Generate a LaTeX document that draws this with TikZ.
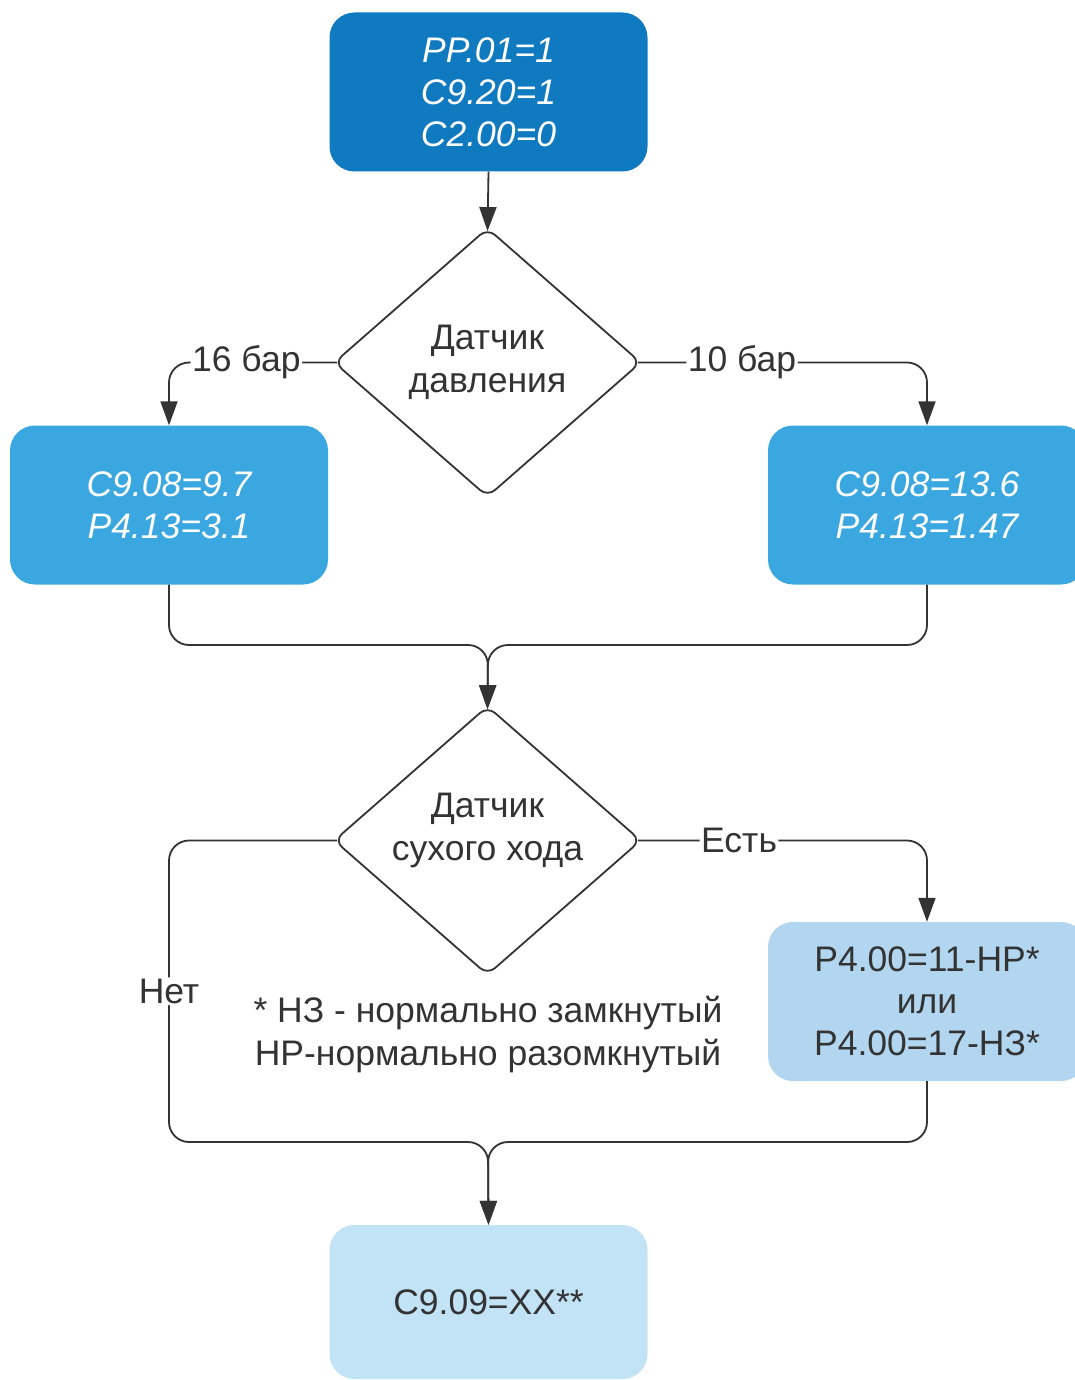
\documentclass[tikz,border=0pt]{standalone}
\usepackage{fontspec}
\setmainfont{Liberation Sans}
\usetikzlibrary{shapes.geometric,arrows.meta}
\definecolor{cdark}{HTML}{0F7AC0}
\definecolor{cmid}{HTML}{3AA7E0}
\definecolor{clight}{HTML}{B2D6F0}
\definecolor{cpale}{HTML}{C2E3F5}
\definecolor{cline}{HTML}{333333}
\tikzset{
  boxbase/.style={rectangle, rounded corners=25pt, minimum width=318pt, minimum height=159pt, inner sep=0pt, align=center, font=\fontsize{35.5}{42}\selectfont},
  darkbox/.style={boxbase, fill=cdark, text=white, font=\fontsize{35.5}{42}\selectfont\itshape},
  midbox/.style={boxbase, fill=cmid, text=white, font=\fontsize{35.5}{42}\selectfont\itshape},
  lightbox/.style={boxbase, fill=clight, text=cline},
  palebox/.style={boxbase, fill=cpale, text=cline},
  decision/.style={diamond, draw=cline, line width=1.8pt, rounded corners=10pt, minimum width=307pt, minimum height=269pt, aspect=1.14, inner sep=0pt, align=center, text=cline, font=\fontsize{35.5}{43}\selectfont},
  dtext/.style={align=center, inner sep=0pt, text=cline, font=\fontsize{35.5}{43}\selectfont},
  conn/.style={draw=cline, line width=1.8pt, rounded corners=20pt, -{Triangle[length=24pt,width=17pt]}},
  lbl/.style={fill=white, inner sep=1.5pt, text=cline, font=\fontsize{35.5}{42}\selectfont},
  note/.style={align=center, text=cline, font=\fontsize{35.5}{43}\selectfont},
}
\begin{document}
\begin{tikzpicture}[x=1pt,y=-1pt]
\useasboundingbox (0,0) rectangle (1074,1380);
\node[darkbox] (TB) at (488.5,92) {PP.01=1\\C9.20=1\\C2.00=0};
\node[decision] (D1) at (487.5,362.5) {Датчик\\давления};
\node[midbox] (LB) at (169,505) {C9.08=9.7\\P4.13=3.1};
\node[midbox] (RB) at (927,505) {C9.08=13.6\\P4.13=1.47};
\node[decision] (D2) at (487.5,840.5) {};
\node[dtext] (D2t) at (487.5,830) {Датчик\\сухого хода};
\node[lightbox] (PB) at (927,1001.5) {P4.00=11-НР*\\или\\P4.00=17-НЗ*};
\node[palebox, minimum height=154pt] (BB) at (488.5,1302) {C9.09=XX**};
\node[note] (NT) at (488,1034) {* НЗ - нормально замкнутый\\НР-нормально разомкнутый};
\coordinate (m1) at (488,645);
\coordinate (m2) at (488,1142);
\coordinate (n1) at (169,1142);

\draw[conn] (TB.south) -- ([yshift=-4pt]D1.north);
\draw[conn] ([xshift=4pt]D1.west) -| node[lbl, pos=0.27] {16 бар} (LB.north);
\draw[conn] ([xshift=-4pt]D1.east) -| node[lbl, pos=0.18] {10 бар} (RB.north);
\draw[conn] (LB.south) |- (m1) -- ([yshift=-4pt]D2.north);
\draw[conn] (RB.south) |- (m1) -- ([yshift=-4pt]D2.north);
\draw[conn] ([xshift=-4pt]D2.east) -| node[lbl, pos=0.175] {Есть} (PB.north);
\draw[conn] ([xshift=4pt]D2.west) -| node[lbl, pos=0.75] {Нет} (n1) -- (m2) -- (BB.north);
\draw[conn] (PB.south) |- (m2) -- (BB.north);
\end{tikzpicture}
\end{document}
